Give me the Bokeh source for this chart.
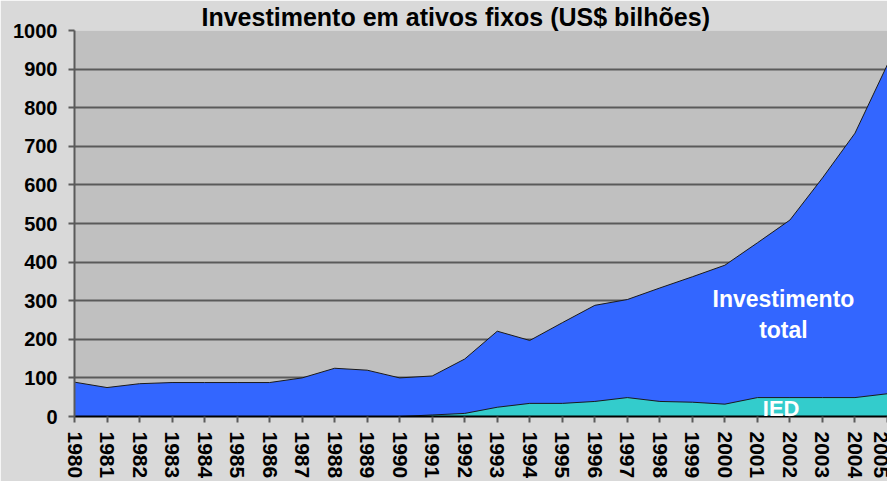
from bokeh.plotting import figure
from bokeh.models import Range1d, FixedTicker, Label
from bokeh.embed import file_html
from bokeh.resources import INLINE

years = list(range(1980, 2006))
total = [89, 75, 85, 88, 88, 88, 88, 100, 125, 120, 100, 105, 149, 221, 197, 243,
         288, 303, 333, 362, 392, 450, 509, 618, 734, 912]
ied = [0, 0, 0, 0, 0, 0, 0, 0, 0, 0, 0, 4, 8, 24, 34, 34,
       39, 49, 39, 37, 32, 49, 49, 49, 49, 59]
title_text = "Investimento em ativos fixos (US$ bilhões)"
y_ticks = list(range(0, 1001, 100))

FONT = "Liberation Sans"

p = figure(width=887, height=481, output_backend="svg", toolbar_location=None,
           title=title_text,
           x_range=Range1d(1980, 2005), y_range=Range1d(0, 1000),
           min_border_left=74, min_border_right=0, min_border_top=23, min_border_bottom=64)
p.background_fill_color = "#c0c0c0"
p.border_fill_color = "#d9d9d9"
p.outline_line_color = None

p.title.text_font = FONT
p.title.text_font_style = "bold"
p.title.text_font_size = "25px"
p.title.text_color = "#000000"
p.title.align = "left"
p.title.offset = 127
p.title.standoff = 0

p.varea(x=years, y1=0, y2=total, fill_color="#3366ff")
p.line(x=years, y=total, line_color="#1a1a1a", line_width=1)
p.varea(x=years, y1=0, y2=ied, fill_color="#33cccc")
p.line(x=years, y=ied, line_color="#1a1a1a", line_width=1)

p.xgrid.grid_line_color = None
p.ygrid.grid_line_color = "#5a5a5a"
p.ygrid.grid_line_width = 2
p.ygrid.ticker = FixedTicker(ticks=y_ticks)
p.ygrid.level = "underlay"

p.yaxis.ticker = FixedTicker(ticks=y_ticks)
p.xaxis.ticker = FixedTicker(ticks=years)
for ax in (p.xaxis, p.yaxis):
    ax.major_label_text_font = FONT
    ax.major_label_text_font_style = "bold"
    ax.major_label_text_color = "#000000"
    ax.major_tick_out = 6
    ax.major_tick_in = 0
    ax.minor_tick_out = 0
    ax.minor_tick_in = 0
    ax.major_tick_line_color = "#5a5a5a"
    ax.major_tick_line_width = 2
p.yaxis.major_label_text_font_size = "20px"
p.xaxis.major_label_text_font_size = "21px"
p.yaxis.axis_line_color = "#5a5a5a"
p.yaxis.axis_line_width = 2
p.yaxis.major_label_standoff = 11
p.xaxis.axis_line_color = "#000000"
p.xaxis.axis_line_width = 2
p.xaxis.major_label_orientation = "vertical"
p.xaxis.major_label_standoff = 9

for txt, yy in (("Investimento", 304), ("total", 225)):
    p.add_layout(Label(x=2001.8, y=yy, text=txt, text_align="center",
                       text_baseline="alphabetic", text_font=FONT, text_font_style="bold",
                       text_font_size="23px", text_color="#ffffff"))
p.add_layout(Label(x=2001.73, y=22, text="IED", text_align="center",
                   text_baseline="alphabetic", text_font=FONT, text_font_style="bold",
                   text_font_size="22px", text_color="#ffffff"))

open("out.html", "w").write(file_html(p, INLINE))
